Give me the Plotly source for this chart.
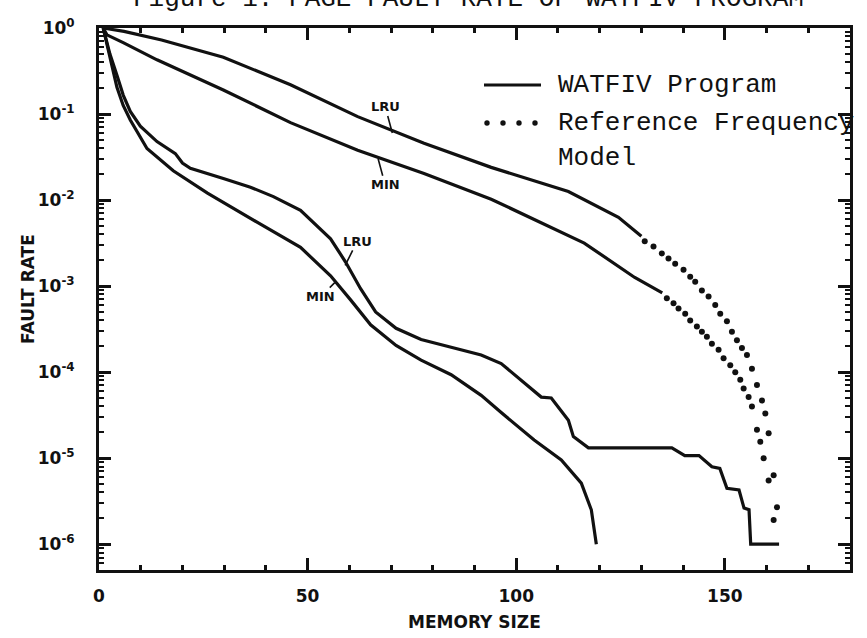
import plotly.graph_objects as go

# ---------------- data (memory size, log10 fault rate) ----------------
watfiv_lru_x = [1.0, 2.6, 4.3, 5.8, 7.5, 9.9, 13.9, 18.3, 20.0, 21.9, 29.8, 36.3, 41.8,
                48.3, 55.5, 59.1, 62.7, 66.3, 71.2, 77.2, 84.4, 91.6, 96.4, 106.0, 108.4,
                112.5, 113.7, 117.3, 137.3, 140.4, 143.8, 146.9, 148.8, 150.5, 153.4,
                154.6, 155.8, 156.2, 163.0]
watfiv_lru_log = [0.0, -0.30, -0.55, -0.78, -0.97, -1.14, -1.32, -1.46, -1.57, -1.63, -1.75,
                  -1.85, -1.96, -2.12, -2.45, -2.72, -3.03, -3.30, -3.49, -3.62, -3.71, -3.80,
                  -3.90, -4.29, -4.30, -4.56, -4.75, -4.88, -4.88, -4.97, -4.97, -5.10, -5.12,
                  -5.35, -5.37, -5.58, -5.60, -6.00, -6.00]

watfiv_min_x = [1.0, 2.6, 4.3, 5.8, 7.5, 11.5, 17.8, 26.0, 33.9, 38.7, 48.3, 55.5, 60.3,
                65.1, 71.2, 77.2, 84.4, 91.6, 96.4, 104.3, 110.8, 115.6, 118.0, 119.2]
watfiv_min_log = [0.0, -0.35, -0.69, -0.90, -1.07, -1.40, -1.66, -1.92, -2.15, -2.28, -2.55,
                  -2.88, -3.16, -3.45, -3.69, -3.86, -4.03, -4.27, -4.47, -4.79, -5.02, -5.29,
                  -5.60, -6.00]

# Reference frequency model: dense part (dots merge into a line)
model_lru_x = [1.0, 6.0, 15.0, 29.8, 45.9, 62.0, 77.9, 94.0, 112.5, 124.5, 130.0]
model_lru_log = [0.0, -0.04, -0.14, -0.34, -0.66, -1.03, -1.34, -1.62, -1.90, -2.20, -2.42]
model_min_x = [1.0, 1.9, 5.8, 13.9, 29.8, 45.9, 62.0, 77.9, 94.0, 116.3, 128.4, 135.0]
model_min_log = [0.0, -0.08, -0.17, -0.37, -0.72, -1.10, -1.42, -1.69, -1.99, -2.50, -2.90, -3.08]

# Reference frequency model: separated dots in the tail
model_lru_dot_x = [130.8, 132.9, 134.9, 136.5, 138.1, 140.1, 141.7, 142.9, 144.5, 146.1, 147.7,
                   148.9, 150.5, 151.7, 152.9, 154.1, 155.3, 156.5, 157.7, 158.9, 159.7, 160.5,
                   161.7, 162.5]
model_lru_dot_log = [-2.48, -2.54, -2.62, -2.68, -2.74, -2.81, -2.89, -2.95, -3.05, -3.12, -3.22,
                     -3.32, -3.41, -3.53, -3.63, -3.72, -3.80, -3.96, -4.15, -4.33, -4.48, -4.71,
                     -5.20, -5.57]
model_min_dot_x = [136.1, 137.7, 138.9, 140.5, 141.7, 143.3, 144.5, 145.7, 146.9, 148.5, 149.7,
                   151.3, 152.5, 153.7, 154.5, 155.7, 156.5, 157.7, 158.5, 159.3, 160.5, 161.7]
model_min_dot_log = [-3.14, -3.20, -3.26, -3.32, -3.40, -3.47, -3.53, -3.59, -3.67, -3.74, -3.84,
                     -3.92, -4.00, -4.09, -4.19, -4.29, -4.40, -4.67, -4.81, -5.00, -5.26, -5.72]

x_ticks = [0, 50, 100, 150]
y_tick_exp = [0, -1, -2, -3, -4, -5, -6]


def rates(logs):
    return [10 ** v for v in logs]


BLACK = "#111111"
fig = go.Figure()
for xs, ls in [(watfiv_lru_x, watfiv_lru_log), (watfiv_min_x, watfiv_min_log),
               (model_lru_x, model_lru_log), (model_min_x, model_min_log)]:
    fig.add_trace(go.Scatter(x=xs, y=rates(ls), mode="lines",
                             line=dict(color=BLACK, width=3.2), showlegend=False,
                             hoverinfo="skip"))
for xs, ls in [(model_lru_dot_x, model_lru_dot_log), (model_min_dot_x, model_min_dot_log)]:
    fig.add_trace(go.Scatter(x=xs, y=rates(ls), mode="markers",
                             marker=dict(color=BLACK, size=6), showlegend=False,
                             hoverinfo="skip"))

# ---------------- layout ----------------
W, H = 867, 638
L, R, T, B = 99, 17, 28, 68
PW, PH = W - L - R, H - T - B


def xp(px):
    return (px - L) / PW


def yp(py):
    return (H - B - py) / PH


axis_font = dict(family="DejaVu Sans", size=17, color=BLACK, weight="bold")

fig.update_layout(
    width=W, height=H, margin=dict(l=L, r=R, t=T, b=B),
    paper_bgcolor="white", plot_bgcolor="white",
    xaxis=dict(range=[0, 180], tickvals=x_ticks, ticktext=[str(v) for v in x_ticks],
               ticks="inside", ticklen=12, tickwidth=2.5, tickcolor=BLACK,
               showline=True, linewidth=3, linecolor=BLACK, mirror="ticks",
               showgrid=False, zeroline=False, tickfont=axis_font, ticklabelstandoff=9,
               minor=dict(dtick=10, ticks="inside", ticklen=5, tickwidth=2.5,
                          tickcolor=BLACK, showgrid=False)),
    yaxis=dict(type="log", range=[-6.3, 0.0],
               tickvals=[10 ** e for e in y_tick_exp],
               ticktext=["10<sup>%d</sup>" % e for e in y_tick_exp],
               ticks="inside", ticklen=12, tickwidth=2.5, tickcolor=BLACK,
               showline=True, linewidth=3, linecolor=BLACK, mirror="ticks",
               showgrid=False, zeroline=False, tickfont=axis_font, ticklabelstandoff=18,
               minor=dict(dtick="D1", ticks="inside", ticklen=5, tickwidth=2,
                          tickcolor=BLACK, showgrid=False)),
)

label_font = dict(family="DejaVu Sans", size=13, color=BLACK, weight="bold")
annots = [
    # curve labels with short leader lines
    dict(x=70.3, y=-1.22, text="LRU", ax=-7, ay=-26),
    dict(x=66.9, y=-1.52, text="MIN", ax=7, ay=26),
    dict(x=59.0, y=-2.76, text="LRU", ax=12, ay=-24),
    dict(x=56.5, y=-2.96, text="MIN", ax=-14, ay=14),
]
for a in annots:
    fig.add_annotation(x=a["x"], y=a["y"], xref="x", yref="y", text=a["text"],
                       showarrow=True, arrowhead=0, arrowwidth=1.6, arrowcolor=BLACK,
                       ax=a["ax"], ay=a["ay"], standoff=0, font=label_font)

mono = dict(family="Liberation Mono", size=26, color=BLACK)
fig.add_annotation(xref="paper", yref="paper", x=xp(556), y=yp(85), text="WATFIV Program",
                   showarrow=False, xanchor="left", yanchor="middle", font=mono)
fig.add_annotation(xref="paper", yref="paper", x=xp(556), y=yp(123),
                   text="Reference Frequency", showarrow=False, xanchor="left",
                   yanchor="middle", font=mono)
fig.add_annotation(xref="paper", yref="paper", x=xp(556), y=yp(158), text="Model",
                   showarrow=False, xanchor="left", yanchor="middle", font=mono)
fig.add_annotation(xref="paper", yref="paper", x=xp(468), y=yp(-1),
                   text="Figure 1. PAGE FAULT RATE OF WATFIV PROGRAM", showarrow=False,
                   xanchor="center", yanchor="middle", font=mono)

fig.add_shape(type="line", xref="paper", yref="paper", x0=xp(484), x1=xp(541),
              y0=yp(85), y1=yp(85), line=dict(color=BLACK, width=3))
for px in [487, 503, 519, 535]:
    fig.add_shape(type="circle", xref="paper", yref="paper", x0=xp(px - 2.7), x1=xp(px + 2.7),
                  y0=yp(123 - 2.7), y1=yp(123 + 2.7), fillcolor=BLACK,
                  line=dict(color=BLACK, width=0))

title_font = dict(family="DejaVu Sans", size=17, color=BLACK, weight="bold")
fig.add_annotation(xref="paper", yref="paper", x=xp(474), y=yp(622), text="MEMORY SIZE",
                   showarrow=False, xanchor="center", yanchor="middle", font=title_font)
fig.add_annotation(xref="paper", yref="paper", x=xp(28), y=yp(289), text="FAULT RATE",
                   showarrow=False, textangle=-90, xanchor="center", yanchor="middle",
                   font=title_font)

fig.write_html("out.html")
